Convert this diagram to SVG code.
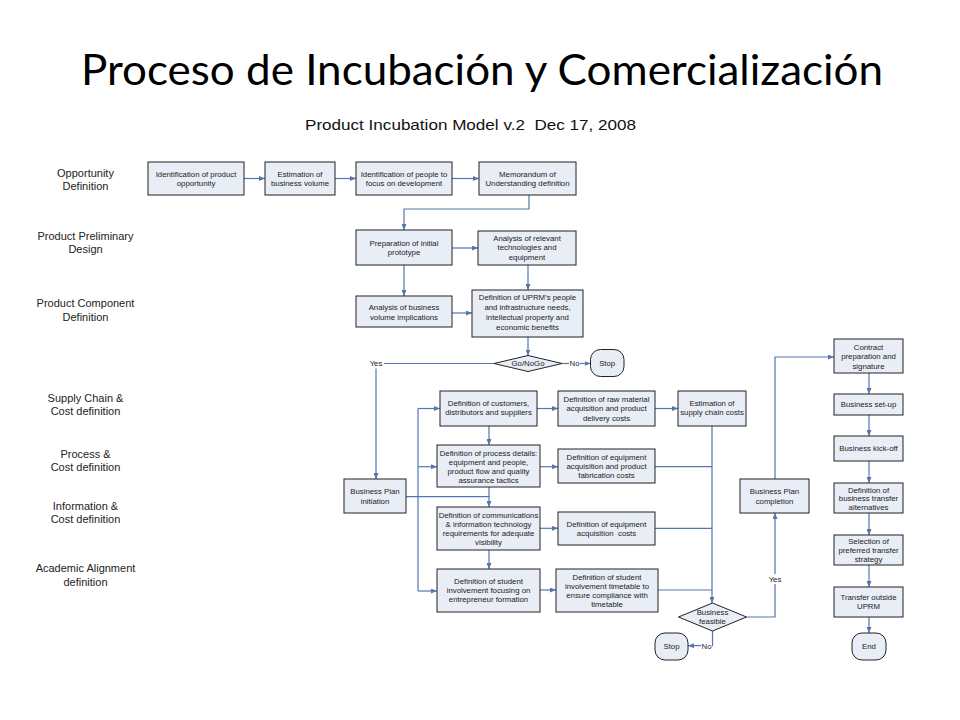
<svg xmlns="http://www.w3.org/2000/svg" width="960" height="720" viewBox="0 0 960 720">
<defs>
<marker id="ah" markerUnits="userSpaceOnUse" markerWidth="6" markerHeight="5" refX="6" refY="2.5" orient="auto">
<path d="M0,0 L6,2.5 L0,5 z" fill="#5676b0"/>
</marker>
<style>
.box{fill:#e8edf6;stroke:#222;stroke-width:1}
.term{fill:#e8edf6;stroke:#222;stroke-width:1}
.t{font-family:"Liberation Sans",Arial,sans-serif;font-size:7.8px;fill:#222;text-anchor:middle}
.lane{font-family:"Liberation Sans",Arial,sans-serif;font-size:11px;fill:#222;text-anchor:middle}
.c{fill:none;stroke:#5676b0;stroke-width:1.2}
.a{marker-end:url(#ah)}
.lbl{fill:#fff}
</style>
</defs>
<rect width="960" height="720" fill="#fff"/>
<text x="81" y="85" font-family="Lato,'Open Sans',sans-serif" font-size="42" fill="#000" textLength="802" lengthAdjust="spacingAndGlyphs">Proceso de Incubación y Comercialización</text>
<text x="305" y="129.5" font-family="'Liberation Sans',Arial,sans-serif" font-size="14.5" fill="#111" textLength="331" lengthAdjust="spacingAndGlyphs" xml:space="preserve">Product Incubation Model v.2  Dec 17, 2008</text>

<g id="lanes">
<text class="lane"><tspan x="85.5" y="177.3">Opportunity</tspan><tspan x="85.5" y="190">Definition</tspan></text>
<text class="lane"><tspan x="85.5" y="240">Product Preliminary</tspan><tspan x="85.5" y="253">Design</tspan></text>
<text class="lane"><tspan x="85.5" y="307.3">Product Component</tspan><tspan x="85.5" y="320.7">Definition</tspan></text>
<text class="lane"><tspan x="85.5" y="402.3">Supply Chain &amp;</tspan><tspan x="85.5" y="415">Cost definition</tspan></text>
<text class="lane"><tspan x="85.5" y="458">Process &amp;</tspan><tspan x="85.5" y="470.7">Cost definition</tspan></text>
<text class="lane"><tspan x="85.5" y="510">Information &amp;</tspan><tspan x="85.5" y="523.3">Cost definition</tspan></text>
<text class="lane"><tspan x="85.5" y="572.3">Academic Alignment</tspan><tspan x="85.5" y="585.7">definition</tspan></text>
</g>

<g id="connectors">
<path class="c a" d="M244,178.5 H265"/>
<path class="c a" d="M335,178.5 H356"/>
<path class="c a" d="M452,178.5 H479"/>
<path class="c a" d="M529,195 V209 H404 V230"/>
<path class="c a" d="M452,248 H478"/>
<path class="c a" d="M528,265 V290"/>
<path class="c a" d="M404,265 V296"/>
<path class="c a" d="M452,313 H472"/>
<path class="c a" d="M528,337 V355.5"/>
<path class="c a" d="M562,363.5 H590.5"/>
<path class="c a" d="M494,363.5 H376 V479"/>
<path class="c a" d="M406,496.7 H489 V507"/>
<path class="c" d="M418,408.5 V591"/>
<path class="c a" d="M418,408.5 H440"/>
<path class="c a" d="M418,466.7 H437"/>
<path class="c a" d="M418,591 H437"/>
<path class="c a" d="M537,408.5 H558"/>
<path class="c a" d="M655,408.5 H678"/>
<path class="c a" d="M489,426 V445"/>
<path class="c a" d="M540,466.7 H558"/>
<path class="c" d="M489,487 V497"/>
<path class="c" d="M655,466.7 H712"/>
<path class="c a" d="M712,426 V603"/>
<path class="c a" d="M540,528.3 H558"/>
<path class="c" d="M655,528.3 H712"/>
<path class="c a" d="M489,550 V569"/>
<path class="c a" d="M540,590 H556"/>
<path class="c" d="M658,590 H712"/>
<path class="c a" d="M712.5,631 V645.7 H688"/>
<path class="c a" d="M746.5,617 H775 V513"/>
<path class="c a" d="M775,479 V357 H834"/>
<path class="c a" d="M869,373 V394"/>
<path class="c a" d="M869,415 V436"/>
<path class="c a" d="M869,461 V483"/>
<path class="c a" d="M869,513 V535"/>
<path class="c a" d="M869,565 V587"/>
<path class="c a" d="M869,617 V633"/>
<rect class="lbl" x="368" y="358.5" width="16" height="10"/>
<text class="t" x="376" y="366.3">Yes</text>
<rect class="lbl" x="569" y="358.5" width="11" height="10"/>
<text class="t" x="574.5" y="366.3">No</text>
<rect class="lbl" x="701" y="640.5" width="11" height="10"/>
<text class="t" x="706.5" y="648.5">No</text>
<rect class="lbl" x="767" y="574" width="16" height="10"/>
<text class="t" x="775" y="581.8">Yes</text>
</g>

<g id="n1"><rect class="box" x="148" y="162" width="96" height="33"/><text class="t"><tspan x="196" y="176.6">Identification of product</tspan><tspan x="196" y="186.1">opportunity</tspan></text></g>
<g id="n2"><rect class="box" x="265" y="162" width="70" height="33"/><text class="t"><tspan x="300" y="176.6">Estimation of</tspan><tspan x="300" y="186.1">business volume</tspan></text></g>
<g id="n3"><rect class="box" x="356" y="162" width="96" height="33"/><text class="t"><tspan x="404" y="176.6">Identification of people to</tspan><tspan x="404" y="186.1">focus on development</tspan></text></g>
<g id="n4"><rect class="box" x="479" y="162" width="97" height="33"/><text class="t"><tspan x="527.5" y="176.6">Memorandum of</tspan><tspan x="527.5" y="186.1">Understanding definition</tspan></text></g>
<g id="n5"><rect class="box" x="356" y="230" width="96" height="35"/><text class="t"><tspan x="404" y="246">Preparation of initial</tspan><tspan x="404" y="255">prototype</tspan></text></g>
<g id="n6"><rect class="box" x="478" y="231" width="98" height="34"/><text class="t"><tspan x="527" y="240.5">Analysis of relevant</tspan><tspan x="527" y="250">technologies and</tspan><tspan x="527" y="259.5">equipment</tspan></text></g>
<g id="n7"><rect class="box" x="356" y="296" width="96" height="31"/><text class="t"><tspan x="404" y="310">Analysis of business</tspan><tspan x="404" y="319.5">volume implications</tspan></text></g>
<g id="n8"><rect class="box" x="472" y="290" width="111" height="47"/><text class="t"><tspan x="527.5" y="299.5">Definition of UPRM’s people</tspan><tspan x="527.5" y="309.5">and infrastructure needs,</tspan><tspan x="527.5" y="319.5">intellectual property and</tspan><tspan x="527.5" y="329.5">economic benefits</tspan></text></g>
<g id="gonogo"><path class="box" d="M494,363.5 L528,355.5 L562,363.5 L528,371.5 Z"/><text class="t" x="528" y="366.3">Go/NoGo</text></g>
<g id="stop1"><rect class="term" x="590.5" y="349.5" width="33.5" height="27" rx="10" ry="10"/><text class="t" x="607.2" y="365.8">Stop</text></g>
<g id="n9"><rect class="box" x="344" y="479" width="62" height="34"/><text class="t"><tspan x="375" y="493.8">Business Plan</tspan><tspan x="375" y="503.5">initiation</tspan></text></g>
<g id="n10"><rect class="box" x="440" y="391" width="97" height="35"/><text class="t"><tspan x="488.5" y="405.8">Definition of customers,</tspan><tspan x="488.5" y="415.3">distributors and suppliers</tspan></text></g>
<g id="n11"><rect class="box" x="558" y="391" width="97" height="35"/><text class="t"><tspan x="606.5" y="402.1">Definition of raw material</tspan><tspan x="606.5" y="411.1">acquisition and product</tspan><tspan x="606.5" y="420.5">delivery costs</tspan></text></g>
<g id="n12"><rect class="box" x="678" y="391" width="68" height="35"/><text class="t"><tspan x="712" y="405.8">Estimation of</tspan><tspan x="712" y="415">supply chain costs</tspan></text></g>
<g id="n13"><rect class="box" x="437" y="445" width="103" height="42"/><text class="t"><tspan x="488.5" y="456">Definition of process details:</tspan><tspan x="488.5" y="465">equipment and people,</tspan><tspan x="488.5" y="474">product flow and quality</tspan><tspan x="488.5" y="483">assurance tactics</tspan></text></g>
<g id="n14"><rect class="box" x="558" y="449" width="97" height="34"/><text class="t"><tspan x="606.5" y="459.8">Definition of equipment</tspan><tspan x="606.5" y="469">acquisition and product</tspan><tspan x="606.5" y="478.2">fabrication costs</tspan></text></g>
<g id="n15"><rect class="box" x="437" y="507" width="103" height="43"/><text class="t"><tspan x="488.5" y="517.8">Definition of communications</tspan><tspan x="488.5" y="526.8">&amp; information technology</tspan><tspan x="488.5" y="536">requirements for adequate</tspan><tspan x="488.5" y="544.5">visibility</tspan></text></g>
<g id="n16"><rect class="box" x="558" y="512" width="97" height="33"/><text class="t"><tspan x="606.5" y="526.8">Definition of equipment</tspan><tspan x="606.5" y="536" xml:space="preserve">acquisition  costs</tspan></text></g>
<g id="n17"><rect class="box" x="437" y="569" width="103" height="43"/><text class="t"><tspan x="488.5" y="583.8">Definition of student</tspan><tspan x="488.5" y="592.8">involvement focusing on</tspan><tspan x="488.5" y="602">entrepreneur formation</tspan></text></g>
<g id="n18"><rect class="box" x="556" y="569" width="102" height="43"/><text class="t"><tspan x="607" y="580">Definition of student</tspan><tspan x="607" y="588.8">involvement timetable to</tspan><tspan x="607" y="597.8">ensure compliance with</tspan><tspan x="607" y="606.8">timetable</tspan></text></g>
<g id="feasible"><path class="box" d="M678.5,617 L712.5,603 L746.5,617 L712.5,631 Z"/><text class="t"><tspan x="712.5" y="615.1">Business</tspan><tspan x="712.5" y="624.4">feasible</tspan></text></g>
<g id="stop2"><rect class="term" x="655" y="633" width="33" height="27" rx="10" ry="10"/><text class="t" x="671.5" y="649.3">Stop</text></g>
<g id="n19"><rect class="box" x="740" y="479" width="69" height="34"/><text class="t"><tspan x="774.5" y="493.8">Business Plan</tspan><tspan x="774.5" y="503.5">completion</tspan></text></g>
<g id="n20"><rect class="box" x="834" y="339" width="69" height="34"/><text class="t"><tspan x="868.5" y="349.5">Contract</tspan><tspan x="868.5" y="359.3">preparation and</tspan><tspan x="868.5" y="368.8">signature</tspan></text></g>
<g id="n21"><rect class="box" x="834" y="394" width="69" height="21"/><text class="t" x="868.5" y="406.8">Business set-up</text></g>
<g id="n22"><rect class="box" x="834" y="436" width="69" height="25"/><text class="t" x="868.5" y="451">Business kick-off</text></g>
<g id="n23"><rect class="box" x="834" y="483" width="69" height="30"/><text class="t"><tspan x="868.5" y="492.8">Definition of</tspan><tspan x="868.5" y="501.1">business transfer</tspan><tspan x="868.5" y="510.1">alternatives</tspan></text></g>
<g id="n24"><rect class="box" x="834" y="535" width="69" height="30"/><text class="t"><tspan x="868.5" y="543.5">Selection of</tspan><tspan x="868.5" y="552.8">preferred transfer</tspan><tspan x="868.5" y="561.8">strategy</tspan></text></g>
<g id="n25"><rect class="box" x="834" y="587" width="69" height="30"/><text class="t"><tspan x="868.5" y="599.5">Transfer outside</tspan><tspan x="868.5" y="608.8">UPRM</tspan></text></g>
<g id="end"><rect class="term" x="852" y="633" width="34" height="27" rx="10" ry="10"/><text class="t" x="869" y="648.8">End</text></g>
</svg>
